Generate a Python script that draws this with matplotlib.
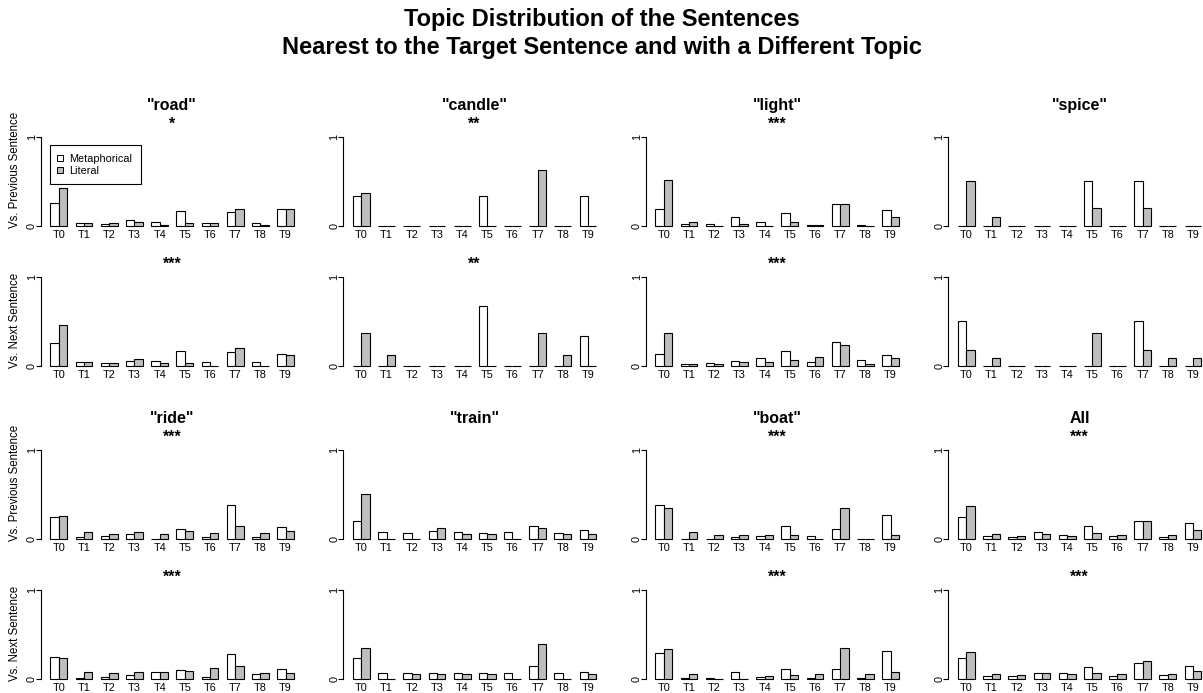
import matplotlib
matplotlib.use("Agg")
import matplotlib.pyplot as plt
from matplotlib.lines import Line2D
import numpy as np

plt.rcParams['font.family'] = ['Liberation Sans', 'DejaVu Sans']

topics = ["T0", "T1", "T2", "T3", "T4", "T5", "T6", "T7", "T8", "T9"]
words = ['"road"', '"candle"', '"light"', '"spice"', '"ride"', '"train"', '"boat"', 'All']
stars_prev = ["*", "**", "***", "", "***", "", "***", "***"]
stars_next = ["***", "**", "***", "", "***", "", "***", "***"]

# share of the nearest different-topic sentence, per topic
road_prev_met = [0.26, 0.03, 0.02, 0.067, 0.04, 0.17, 0.03, 0.157, 0.03, 0.19]
road_prev_lit = [0.42, 0.03, 0.03, 0.045, 0.015, 0.03, 0.03, 0.19, 0.015, 0.19]
road_next_met = [0.26, 0.04, 0.03, 0.055, 0.06, 0.167, 0.048, 0.16, 0.044, 0.137]
road_next_lit = [0.463, 0.048, 0.03, 0.078, 0.03, 0.03, 0.0, 0.196, 0.0, 0.122]

candle_prev_met = [0.333, 0, 0, 0, 0, 0.333, 0, 0, 0, 0.333]
candle_prev_lit = [0.375, 0, 0, 0, 0, 0, 0, 0.625, 0, 0]
candle_next_met = [0, 0, 0, 0, 0, 0.667, 0, 0, 0, 0.333]
candle_next_lit = [0.375, 0.125, 0, 0, 0, 0, 0, 0.375, 0.125, 0]

light_prev_met = [0.187, 0.02, 0.02, 0.10, 0.05, 0.15, 0.015, 0.25, 0.01, 0.18]
light_prev_lit = [0.52, 0.05, 0.0, 0.02, 0.0, 0.05, 0.01, 0.245, 0.0, 0.097]
light_next_met = [0.137, 0.018, 0.037, 0.06, 0.085, 0.163, 0.044, 0.274, 0.063, 0.118]
light_next_lit = [0.37, 0.018, 0.018, 0.048, 0.04, 0.067, 0.104, 0.23, 0.018, 0.093]

spice_prev_met = [0, 0, 0, 0, 0, 0.5, 0, 0.5, 0, 0]
spice_prev_lit = [0.5, 0.1, 0, 0, 0, 0.2, 0, 0.2, 0, 0]
spice_next_met = [0.5, 0, 0, 0, 0, 0, 0, 0.5, 0, 0]
spice_next_lit = [0.182, 0.091, 0, 0, 0, 0.364, 0, 0.182, 0.091, 0.091]

ride_prev_met = [0.246, 0.022, 0.037, 0.06, 0.004, 0.112, 0.022, 0.38, 0.022, 0.142]
ride_prev_lit = [0.265, 0.086, 0.06, 0.078, 0.06, 0.097, 0.071, 0.149, 0.071, 0.097]
ride_next_met = [0.25, 0.02, 0.03, 0.045, 0.08, 0.10, 0.03, 0.28, 0.06, 0.11]
ride_next_lit = [0.235, 0.08, 0.065, 0.08, 0.08, 0.09, 0.13, 0.15, 0.065, 0.07]

train_prev_met = [0.205, 0.078, 0.075, 0.097, 0.078, 0.075, 0.078, 0.146, 0.075, 0.108]
train_prev_lit = [0.504, 0.0, 0.0, 0.13, 0.063, 0.063, 0.0, 0.127, 0.063, 0.063]
train_next_met = [0.24, 0.065, 0.065, 0.075, 0.065, 0.075, 0.07, 0.15, 0.07, 0.08]
train_next_lit = [0.345, 0.0, 0.055, 0.06, 0.06, 0.06, 0.0, 0.39, 0.0, 0.055]

boat_prev_met = [0.388, 0.0, 0.0, 0.022, 0.037, 0.149, 0.037, 0.112, 0.0, 0.276]
boat_prev_lit = [0.354, 0.086, 0.045, 0.045, 0.045, 0.045, 0.0, 0.354, 0.0, 0.045]
boat_next_met = [0.29, 0.01, 0.01, 0.085, 0.03, 0.12, 0.02, 0.11, 0.01, 0.32]
boat_next_lit = [0.34, 0.06, 0.005, 0.0, 0.035, 0.05, 0.06, 0.35, 0.06, 0.085]

all_prev_met = [0.25, 0.037, 0.03, 0.078, 0.045, 0.149, 0.034, 0.2, 0.03, 0.18]
all_prev_lit = [0.37, 0.063, 0.037, 0.06, 0.037, 0.075, 0.045, 0.2, 0.045, 0.104]
all_next_met = [0.24, 0.035, 0.035, 0.065, 0.065, 0.14, 0.035, 0.18, 0.045, 0.15]
all_next_lit = [0.31, 0.055, 0.045, 0.065, 0.055, 0.065, 0.06, 0.21, 0.055, 0.09]

prev_met = [road_prev_met, candle_prev_met, light_prev_met, spice_prev_met,
            ride_prev_met, train_prev_met, boat_prev_met, all_prev_met]
prev_lit = [road_prev_lit, candle_prev_lit, light_prev_lit, spice_prev_lit,
            ride_prev_lit, train_prev_lit, boat_prev_lit, all_prev_lit]
next_met = [road_next_met, candle_next_met, light_next_met, spice_next_met,
            ride_next_met, train_next_met, boat_next_met, all_next_met]
next_lit = [road_next_lit, candle_next_lit, light_next_lit, spice_next_lit,
            ride_next_lit, train_next_lit, boat_next_lit, all_next_lit]

W, H = 1203, 693
fig = plt.figure(figsize=(W / 100, H / 100), dpi=100)


def fx(px):
    return px / W


def fy(py):
    return 1 - py / H


col_x = [40.7, 343.2, 645.7, 948.2]
row_zero = [226, 366, 539.3, 679.3]
unit = 89.3
ax_w = 263
fs = 7.8
grey = "#bebebe"

fig.text(0.5, fy(26), "Topic Distribution of the Sentences", ha="center",
         va="baseline", fontsize=17, fontweight="bold")
fig.text(0.5, fy(54), "Nearest to the Target Sentence and with a Different Topic",
         ha="center", va="baseline", fontsize=17, fontweight="bold")

xl = np.arange(10) * 3 + 1

for w in range(8):
    c = w % 4
    for k in range(2):
        r = (w // 4) * 2 + k
        met = prev_met[w] if k == 0 else next_met[w]
        lit = prev_lit[w] if k == 0 else next_lit[w]
        stars = stars_prev[w] if k == 0 else stars_next[w]

        z = row_zero[r]
        ax = fig.add_axes([fx(col_x[c]), fy(z + 0.04 * unit), fx(ax_w), 1.08 * unit / H])
        ax.bar(xl, met, width=1, align="edge", color="white", edgecolor="black", lw=0.8)
        ax.bar(xl + 1, lit, width=1, align="edge", color=grey, edgecolor="black", lw=0.8)
        ax.set_xlim(-0.16, 31.16)
        ax.set_ylim(-0.04, 1.04)
        for s in ["top", "right", "bottom"]:
            ax.spines[s].set_visible(False)
        ax.spines["left"].set_bounds(0, 1)
        ax.spines["left"].set_linewidth(0.8)
        ax.set_yticks([0, 1])
        ax.set_yticklabels(["0", "1"], rotation=90, va="center")
        ax.tick_params(axis="y", length=3.3, width=0.8, pad=-0.5, labelsize=fs)
        ax.set_xticks(xl + 1)
        ax.set_xticklabels(topics)
        ax.tick_params(axis="x", length=0, pad=0.2, labelsize=fs)

        one = z - unit
        cx = col_x[c] + ax_w / 2
        if k == 0:
            fig.text(fx(cx), fy(one - 26.5), words[w], ha="center", va="baseline",
                     fontsize=11.5, fontweight="bold")
        if stars:
            fig.text(fx(cx), fy(one - 8), stars, ha="center", va="baseline",
                     fontsize=11.5, fontweight="bold")

        if c == 0:
            lab = "Vs. Previous Sentence" if k == 0 else "Vs. Next Sentence"
            fig.text(fx(15), fy(z + 2), lab, rotation=90, ha="center", va="bottom",
                     fontsize=8.3)

        if w == 0 and k == 0:
            handles = [
                Line2D([], [], ls="none", marker="s", markersize=4, markerfacecolor="white",
                       markeredgecolor="black", markeredgewidth=0.7),
                Line2D([], [], ls="none", marker="s", markersize=4, markerfacecolor=grey,
                       markeredgecolor="black", markeredgewidth=0.7),
            ]
            leg = ax.legend(handles, ["Metaphorical", "Literal"], loc="upper left",
                            bbox_to_anchor=(fx(50), fy(145)),
                            bbox_transform=fig.transFigure, borderaxespad=0,
                            fontsize=fs, handlelength=0.25, handletextpad=0.75,
                            borderpad=0.8, labelspacing=0.18, fancybox=False,
                            framealpha=1)
            leg.get_frame().set_edgecolor("black")
            leg.get_frame().set_linewidth(0.8)

fig.savefig("out.png", dpi=100)
